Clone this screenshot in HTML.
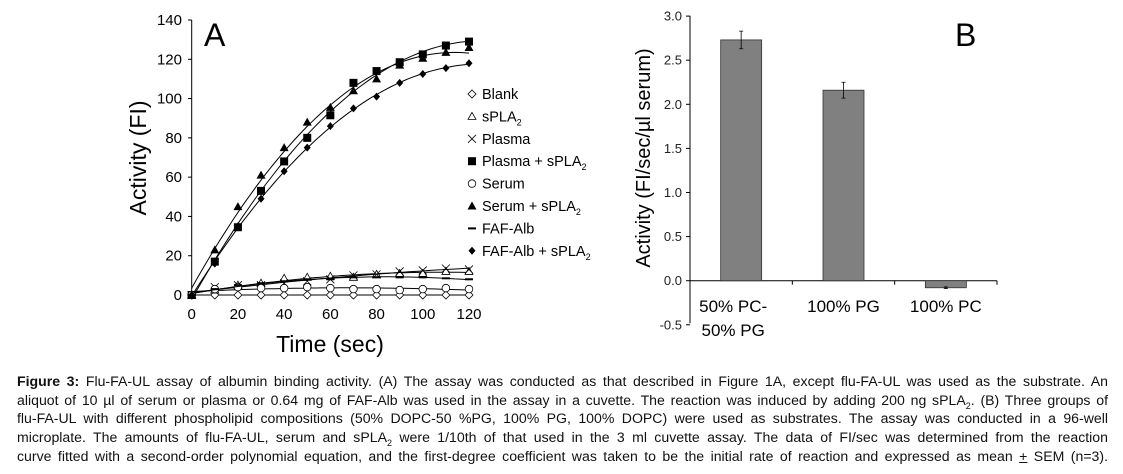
<!DOCTYPE html>
<html><head><meta charset="utf-8"><style>
body{margin:0;background:#fff;width:1123px;height:474px;overflow:hidden;font-family:"Liberation Sans",Arial,sans-serif;}
svg{position:absolute;left:0;top:0}
#cap{position:absolute;left:17px;top:372px;width:1091px;font-size:14.1px;line-height:18.7px;color:#111}
#cap div{text-align:justify;text-align-last:justify;white-space:nowrap}
sub{font-size:9px;line-height:0}
</style></head><body>
<svg id="chart" width="1123" height="370" font-family="Liberation Sans, Arial, sans-serif"></svg>
<div id="cap">
<div><b>Figure 3:</b> Flu-FA-UL assay of albumin binding activity. (A) The assay was conducted as that described in Figure 1A, except flu-FA-UL was used as the substrate. An</div>
<div>aliquot of 10 µl of serum or plasma or 0.64 mg of FAF-Alb was used in the assay in a cuvette. The reaction was induced by adding 200 ng sPLA<sub>2</sub>. (B) Three groups of</div>
<div>flu-FA-UL with different phospholipid compositions (50% DOPC-50 %PG, 100% PG, 100% DOPC) were used as substrates. The assay was conducted in a 96-well</div>
<div>microplate. The amounts of flu-FA-UL, serum and sPLA<sub>2</sub> were 1/10th of that used in the 3 ml cuvette assay. The data of FI/sec was determined from the reaction</div>
<div>curve fitted with a second-order polynomial equation, and the first-degree coefficient was taken to be the initial rate of reaction and expressed as mean <u>+</u> SEM (n=3).</div>
</div>
<script>
const times=[0,10,20,30,40,50,60,70,80,90,100,110,120];
const blank=[0,0,0,0,0,0,0,0,0,0,0,0,0];
const spla2=[0,2.5,5,6,8.5,9,9.5,9,10.5,11,11,12,12];
const plasma=[0,4,5,5,6,7,8,10,10.5,12,12.5,13.5,13];
const plasmaSpla2=[0,17,34.5,53,68,80,91.5,108,114,118.5,122.5,127,129];
const serum=[0,3,4,3.5,3.5,4,3.5,3,3,2.5,3,3.5,3];
const serumSpla2=[0,23,45,61,75,88,95.5,104,110,117,120.5,123.5,126];
const fafAlb=[0,3,5,6,7,8,8,9,9,9,9,8.5,8];
const fafAlbSpla2=[0,16,35,49,63,75,86,95,101,108,112.5,115.5,118];
const xTicksA=[0,20,40,60,80,100,120];
const yTicksA=[0,20,40,60,80,100,120,140];
const categoriesB=["50% PC-|50% PG","100% PG","100% PC"];
const valuesB=[2.73,2.16,-0.08];
const errorsB=[0.1,0.09,0.01];
const yTicksB=[-0.5,0.0,0.5,1.0,1.5,2.0,2.5,3.0];

const NS="http://www.w3.org/2000/svg";
const svg=document.getElementById('chart');
function mk(t,a,p){const e=document.createElementNS(NS,t);for(const k in a)e.setAttribute(k,a[k]);(p||svg).appendChild(e);return e;}
const xA=v=>191.7+v*(469-191.7)/120, yA=v=>295-v*275/140;
const gA=mk('g',{});


let ax=mk('line',{x1:191.7,y1:20,x2:191.7,y2:295,stroke:'#000'},gA);

ax=mk('line',{x1:191.7,y1:295,x2:469,y2:295,stroke:'#000'},gA);

yTicksA.forEach(v=>{mk('line',{x1:188,x2:191.7,y1:yA(v),y2:yA(v),stroke:'#000'},gA);
 const t=mk('text',{x:182,y:yA(v)+5,'text-anchor':'end','font-size':15},gA);t.textContent=v;
 });
xTicksA.forEach(v=>{mk('line',{x1:xA(v),x2:xA(v),y1:295,y2:299,stroke:'#000'},gA);
 const t=mk('text',{x:xA(v),y:319,'text-anchor':'middle','font-size':15},gA);t.textContent=v;
 });
let t=mk('text',{x:330,y:352,'text-anchor':'middle','font-size':23},gA);t.textContent='Time (sec)';

t=mk('text',{x:0,y:0,'text-anchor':'middle','font-size':23,transform:'translate(146,158) rotate(-90)'},gA);t.textContent='Activity (FI)';

t=mk('text',{x:204,y:46,'font-size':32},gA);t.textContent='A';

function fit(ys){let S=[0,0,0,0,0],T=[0,0,0];times.forEach((x,i)=>{for(let k=0;k<5;k++)S[k]+=x**k;for(let k=0;k<3;k++)T[k]+=ys[i]*x**k;});
 const M=[[S[0],S[1],S[2],T[0]],[S[1],S[2],S[3],T[1]],[S[2],S[3],S[4],T[2]]];
 for(let i=0;i<3;i++){for(let j=i+1;j<3;j++){const f=M[j][i]/M[i][i];for(let k=i;k<4;k++)M[j][k]-=f*M[i][k];}}
 const c=[0,0,0];for(let i=2;i>=0;i--){let s=M[i][3];for(let k=i+1;k<3;k++)s-=M[i][k]*c[k];c[i]=s/M[i][i];}return x=>c[0]+c[1]*x+c[2]*x*x;}
function marker(g,type,cx,cy){
 if(type==='diamondO')return mk('path',{d:`M${cx} ${cy-4}L${cx+4} ${cy}L${cx} ${cy+4}L${cx-4} ${cy}Z`,fill:'#fff',stroke:'#000','stroke-width':0.8},g);
 if(type==='diamond')return mk('path',{d:`M${cx} ${cy-4}L${cx+3.5} ${cy}L${cx} ${cy+4}L${cx-3.5} ${cy}Z`,fill:'#000'},g);
 if(type==='triO')return mk('path',{d:`M${cx} ${cy-4}L${cx+4} ${cy+3}L${cx-4} ${cy+3}Z`,fill:'#fff',stroke:'#000','stroke-width':0.8},g);
 if(type==='tri')return mk('path',{d:`M${cx} ${cy-4.5}L${cx+4.5} ${cy+3.5}L${cx-4.5} ${cy+3.5}Z`,fill:'#000'},g);
 if(type==='x')return mk('path',{d:`M${cx-4} ${cy-4}L${cx+4} ${cy+4}M${cx+4} ${cy-4}L${cx-4} ${cy+4}`,stroke:'#000','stroke-width':0.8},g);
 if(type==='sq')return mk('rect',{x:cx-4,y:cy-4,width:8,height:8,fill:'#000'},g);
 if(type==='circO')return mk('circle',{cx,cy,r:3.8,fill:'#fff',stroke:'#000','stroke-width':0.8},g);
 if(type==='dash')return mk('rect',{x:cx-4,y:cy-1,width:8,height:2,fill:'#000'},g);
}
const S2=[['blank','Blank',blank,'diamondO',''],['spla2','sPLA',spla2,'triO','2'],['plasma','Plasma',plasma,'x',''],['plasma-spla2','Plasma + sPLA',plasmaSpla2,'sq','2'],['serum','Serum',serum,'circO',''],['serum-spla2','Serum + sPLA',serumSpla2,'tri','2'],['faf-alb','FAF-Alb',fafAlb,'dash',''],['faf-alb-spla2','FAF-Alb + sPLA',fafAlbSpla2,'diamond','2']];
S2.forEach((s,si)=>{
 const g=mk('g',{},gA);
 
 
 const f=fit(s[2]);let d='';
 for(let x=0;x<=120;x+=2)d+=(x?'L':'M')+xA(x).toFixed(1)+' '+yA(f(x)).toFixed(1);
 const ln=mk('path',{d,fill:'none',stroke:'#000','stroke-width':1},g);
 
 s[2].forEach((v,i)=>{const m=marker(g,s[3],xA(times[i]),yA(v));
  });
 const ly=94+si*22.4;
 const lg=mk('g',{},gA);
 
 
 marker(lg,s[3],472,ly);
 const tt=mk('text',{x:482,y:ly+5,'font-size':14.5},lg);tt.textContent=s[1];
 if(s[4]){const sb=mk('tspan',{dy:4,'font-size':9},tt);sb.textContent=s[4];}
});
const gB=mk('g',{});


const yB=v=>280.7-v*88.2, x0B=690, bandB=(997-690)/3;
ax=mk('line',{x1:x0B,y1:15.7,x2:x0B,y2:323.3,stroke:'#000'},gB);

ax=mk('line',{x1:x0B,y1:yB(0),x2:997,y2:yB(0),stroke:'#000'},gB);

yTicksB.forEach(v=>{mk('line',{x1:686,x2:x0B,y1:yB(v),y2:yB(v),stroke:'#000'},gB);
 const t=mk('text',{x:682,y:yB(v)+4.5,'text-anchor':'end','font-size':13,fill:'#222'},gB);t.textContent=v.toFixed(1);
 });
for(let i=1;i<=3;i++)mk('line',{x1:x0B+i*bandB,x2:x0B+i*bandB,y1:yB(0),y2:yB(0)+4,stroke:'#000'},gB);
categoriesB.forEach((c,i)=>{const cx=x0B+(i+0.5)*bandB;
 const bw=41,v=valuesB[i];
 const r=mk('rect',{x:cx-bw/2,y:Math.min(yB(v),yB(0)),width:bw,height:Math.abs(yB(v)-yB(0)),fill:'#808080',stroke:'#333','stroke-width':0.8},gB);
 
 const e=errorsB[i];
 const eb=mk('path',{d:`M${cx} ${yB(v+e)}V${yB(v-e)}M${cx-2} ${yB(v+e)}H${cx+2}M${cx-2} ${yB(v-e)}H${cx+2}`,stroke:'#000','stroke-width':0.8},gB);
 
 c.split('|').forEach((p,j)=>{const t=mk('text',{x:cx-(i==0?8:0),y:312+j*24,'text-anchor':'middle','font-size':17},gB);t.textContent=p;
  });
});
t=mk('text',{x:0,y:0,'text-anchor':'middle','font-size':20,transform:'translate(650,158) rotate(-90)'},gB);t.textContent='Activity (FI/sec/µl serum)';

t=mk('text',{x:955,y:46,'font-size':32},gB);t.textContent='B';

</script>
</body></html>
